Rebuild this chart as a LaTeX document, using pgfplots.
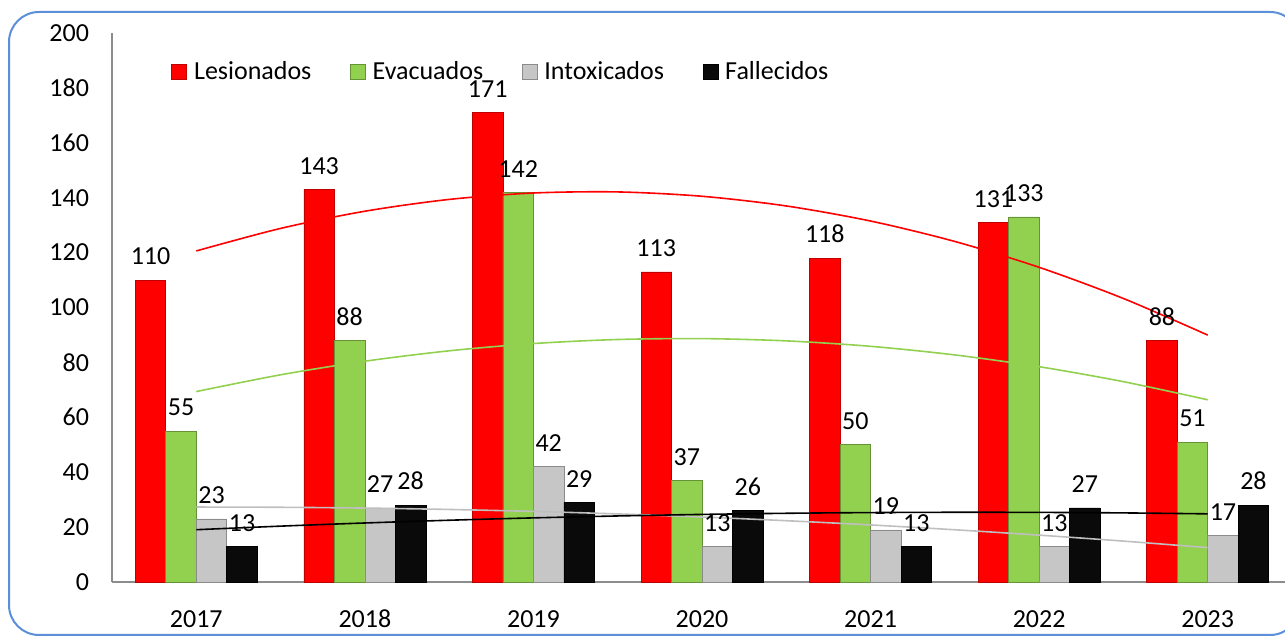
\documentclass[border=0pt]{standalone}
\usepackage{pgfplots}
\pgfplotsset{compat=1.18}
\usepackage{fontspec}
\setmainfont{Carlito}
\definecolor{cRed}{HTML}{FF0000}
\definecolor{cGreen}{HTML}{92D050}
\definecolor{cGray}{HTML}{C6C6C6}
\definecolor{cBlack}{HTML}{0A0A0A}
\definecolor{tGray}{HTML}{BFBFBF}
\definecolor{frameBlue}{HTML}{5B8FD9}
\definecolor{axGray}{HTML}{8C8C8C}
\newcommand{\chartfont}{\fontsize{13}{15.6}\selectfont}

\pgfplotstableread{
x  les eva int fal
1  110 55  23  13
2  143 88  27  28
3  171 142 42  29
4  113 37  13  26
5  118 50  19  13
6  131 133 13  27
7  88  51  17  28
}\datatable

% polynomial (order 2) trendlines, values read at half steps
\pgfplotstableread{
x   les     eva    int    fal
1   120.60  69.38  27.31  19.05
1.5 128.81  75.48  27.22  20.35
2   135.07  80.43  26.93  21.50
2.5 139.37  84.22  26.43  22.50
3   141.71  86.86  25.71  23.36
3.5 142.10  88.34  24.80  24.06
4   140.52  88.67  23.67  24.62
4.5 136.99  87.84  22.33  25.03
5   131.50  85.86  20.79  25.29
5.5 124.05  82.72  19.03  25.40
6   114.64  78.43  17.07  25.36
6.5 103.28  72.98  14.90  25.17
7   89.95   66.38  12.52  24.83
}\trendtable

\begin{document}
\begin{tikzpicture}[font=\chartfont]
\path[use as bounding box] (0pt,0pt) rectangle (642.5pt,318.5pt);
\begin{scope}
\clip (0pt,0pt) rectangle (642.5pt,318.5pt);
\draw[frameBlue, line width=1pt, rounded corners=15pt] (4.5pt,1pt) rectangle (650pt,312.5pt);
\end{scope}
\begin{axis}[
  at={(56pt,27.5pt)}, anchor=south west,
  scale only axis, width=590pt, height=274.5pt,
  xmin=0.5, xmax=7.5, ymin=0, ymax=200,
  axis lines*=left,
  axis line style={draw=axGray, line width=0.6pt},
  clip=false,
  ybar=0pt, bar width=15.25pt,
  /pgf/number format/assume math mode=true,
  every tick label/.append style={font=\chartfont},
  ytick={0,20,...,200},
  ytick style={draw=none},
  yticklabel style={xshift=-8pt},
  xtick={1,...,7},
  xticklabels={2017,2018,2019,2020,2021,2022,2023},
  xtick style={draw=none},
  xticklabel style={yshift=-6pt, text height=9pt, text depth=0pt},
  extra x ticks={0.5,1.5,...,6.5},
  extra x tick labels={},
  extra x tick style={tick style={draw=axGray, line width=0.6pt}, major tick length=8.5pt, tick align=center},
  legend columns=4,
  legend style={draw=none, fill=none, at={(0.045,0.963)}, anchor=north west,
    font=\chartfont,
    /tikz/every even column/.append style={column sep=17.3pt}},
  legend image code/.code={\draw[#1, line width=0.3pt] (0pt,-3.75pt) rectangle (7.5pt,3.75pt); \path (9pt,0pt);},
  every node near coord/.append style={font=\chartfont, yshift=4pt, text=black},
]
\addplot[ybar, nodes near coords, fill=cRed, draw=cRed!75!black, line width=0.3pt] table[x=x,y=les]{\datatable};
\addlegendentry{Lesionados}
\addplot[ybar, nodes near coords, fill=cGreen, draw=cGreen!70!black, line width=0.3pt] table[x=x,y=eva]{\datatable};
\addlegendentry{Evacuados}
\addplot[ybar, nodes near coords, fill=cGray, draw=cGray!70!black, line width=0.3pt] table[x=x,y=int]{\datatable};
\addlegendentry{Intoxicados}
\addplot[ybar, nodes near coords, fill=cBlack, draw=black, line width=0.3pt] table[x=x,y=fal]{\datatable};
\addlegendentry{Fallecidos}
\addplot[forget plot, smooth, no marks, cRed, line width=0.8pt] table[x=x,y=les]{\trendtable};
\addplot[forget plot, smooth, no marks, cGreen, line width=0.8pt] table[x=x,y=eva]{\trendtable};
\addplot[forget plot, smooth, no marks, tGray, line width=0.8pt] table[x=x,y=int]{\trendtable};
\addplot[forget plot, smooth, no marks, black, line width=0.8pt] table[x=x,y=fal]{\trendtable};
\end{axis}
\end{tikzpicture}
\end{document}
